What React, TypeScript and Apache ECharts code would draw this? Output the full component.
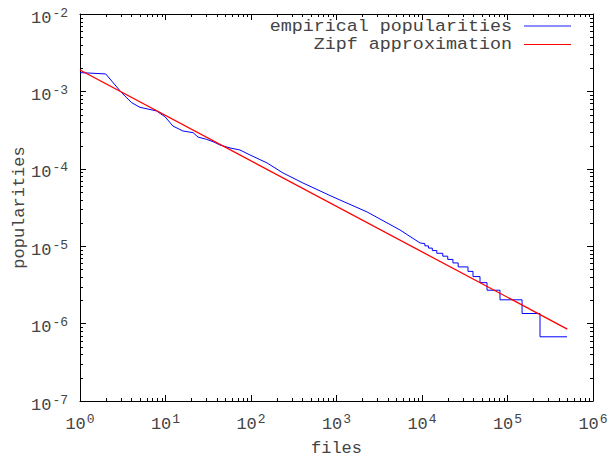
import React, { useEffect, useRef } from "react";
import * as echarts from "echarts";

// ---- data ----
const xDecades = [0, 1, 2, 3, 4, 5, 6];
const yDecades = [-7, -6, -5, -4, -3, -2];
const minorMultipliers = [2, 3, 4, 5, 6, 7, 8, 9];

// smooth head of the empirical curve (rank, popularity)
const empiricalRank = [
  1, 2, 3.07, 4.02, 5.03, 7.89, 8.6, 9.87, 12.2, 16, 21, 24, 30.3, 36, 43.4,
  56.8, 74.3, 97.3, 154, 237, 405, 910, 2280, 5530, 9500,
];
const empiricalPop = [
  1.75e-3, 1.68e-3, 9.6e-4, 7.15e-4, 6.23e-4, 5.58e-4, 5.21e-4, 4.71e-4,
  3.57e-4, 3.08e-4, 2.93e-4, 2.57e-4, 2.4e-4, 2.24e-4, 2.03e-4, 1.86e-4,
  1.75e-4, 1.51e-4, 1.19e-4, 8.83e-5, 6.56e-5, 4.33e-5, 2.77e-5, 1.62e-5,
  1.1e-5,
];

// stair-step tail: plateaus (from rank, to rank, popularity)
const stepFrom = [
  9500, 10800, 11900, 13200, 14900, 17500, 20000, 23000, 26500, 34500, 39500,
  47700, 57600, 81700, 148000, 240000,
];
const stepTo = [
  10800, 11900, 13200, 14900, 17500, 20000, 23000, 26500, 34500, 39500, 47700,
  57600, 81700, 148000, 240000, 497000,
];
const stepPop = [
  1.08e-5, 1.01e-5, 9.45e-6, 8.78e-6, 8.1e-6, 7.43e-6, 6.75e-6, 6.08e-6,
  5.4e-6, 4.73e-6, 4.05e-6, 3.38e-6, 2.7e-6, 2.03e-6, 1.35e-6, 6.75e-7,
];

const zipfRank = [1, 500000];
const zipfPop = [1.89e-3, 8.5e-7];

const seriesNames = ["empirical popularities", "Zipf approximation"];
const xName = "files";
const yName = "popularities";

const FONT = '"Liberation Mono", "Courier New", monospace';
const TEXT = "#444444";

export default function App() {
  const ref = useRef<HTMLDivElement>(null);

  useEffect(() => {
    if (!ref.current) return;
    const chart = echarts.init(ref.current, undefined, { renderer: "svg" });

    const empirical: number[][] = empiricalRank.map((r, i) => [r, empiricalPop[i]]);
    stepFrom.forEach((f, i) => {
      empirical.push([f, stepPop[i]]);
      empirical.push([stepTo[i], stepPop[i]]);
    });
    const zipf = zipfRank.map((r, i) => [r, zipfPop[i]]);

    const minorTicks: number[][] = [];
    xDecades.slice(0, -1).forEach((d) =>
      minorMultipliers.forEach((m) => minorTicks.push([m * Math.pow(10, d), 1e-7, 0]))
    );
    yDecades.slice(0, -1).forEach((d) =>
      minorMultipliers.forEach((m) => minorTicks.push([1, m * Math.pow(10, d), 1]))
    );

    const xMin = Math.pow(10, xDecades[0]);
    const xMax = Math.pow(10, xDecades[xDecades.length - 1]);
    const yMin = Math.pow(10, yDecades[0]);
    const yMax = Math.pow(10, yDecades[yDecades.length - 1]);

    const fmt = (v: number) => `{b|10}{s|${Math.round(Math.log10(v))}}`;
    const rich = {
      b: { fontFamily: FONT, fontSize: 17, color: TEXT, verticalAlign: "bottom", lineHeight: 17 },
      s: {
        fontFamily: FONT,
        fontSize: 13,
        color: TEXT,
        verticalAlign: "bottom",
        lineHeight: 13,
        padding: [0, 0, 7, 1],
      },
    };
    const axisLine = { show: true, lineStyle: { color: "#000", width: 1 } };
    const axisTick = { show: true, inside: true, length: 6, lineStyle: { color: "#000", width: 1 } };

    const baseX = {
      type: "log",
      logBase: 10,
      min: xMin,
      max: xMax,
      splitNumber: xDecades.length - 1,
      axisLine,
      axisTick,
      splitLine: { show: false },
    };
    const baseY = {
      type: "log",
      logBase: 10,
      min: yMin,
      max: yMax,
      splitNumber: yDecades.length - 1,
      axisLine,
      axisTick,
      splitLine: { show: false },
    };

    const option: any = {
      animation: false,
      backgroundColor: "#ffffff",
      grid: {
        left: 80,
        right: 15,
        top: 14,
        bottom: 55,
        containLabel: false,
        outerBoundsMode: "none",
      },
      xAxis: [
        {
          ...baseX,
          position: "bottom",
          axisLabel: { formatter: fmt, rich, margin: 15 },
          name: xName,
          nameLocation: "middle",
          nameGap: 40,
          nameMoveOverlap: false,
          nameTextStyle: { fontFamily: FONT, fontSize: 17, lineHeight: 14, color: TEXT },
        },
        { ...baseX, position: "top", axisLabel: { show: false } },
      ],
      yAxis: [
        {
          ...baseY,
          position: "left",
          axisLabel: { formatter: fmt, rich, margin: 12, padding: [8, 0, 0, 0] },
          name: yName,
          nameLocation: "middle",
          nameGap: 54,
          nameMoveOverlap: false,
          nameTextStyle: { fontFamily: FONT, fontSize: 17, lineHeight: 14, color: TEXT },
        },
        { ...baseY, position: "right", axisLabel: { show: false } },
      ],
      graphic: [
        {
          type: "text",
          x: 512,
          y: 26,
          scaleX: 1.08,
          style: {
            text: seriesNames[0],
            align: "right",
            verticalAlign: "middle",
            font: `17px ${FONT}`,
            fill: TEXT,
          },
        },
        {
          type: "line",
          shape: { x1: 524, y1: 26, x2: 571, y2: 26 },
          style: { stroke: "#0000ff", lineWidth: 1.5, opacity: 0.6 },
        },
        {
          type: "text",
          x: 512,
          y: 44,
          scaleX: 1.08,
          style: {
            text: seriesNames[1],
            align: "right",
            verticalAlign: "middle",
            font: `17px ${FONT}`,
            fill: TEXT,
          },
        },
        {
          type: "line",
          shape: { x1: 524, y1: 44.5, x2: 571, y2: 44.5 },
          style: { stroke: "#ff0000", lineWidth: 1 },
        },
      ],
      series: [
        {
          name: seriesNames[0],
          type: "line",
          xAxisIndex: 0,
          yAxisIndex: 0,
          data: empirical,
          showSymbol: false,
          symbol: "none",
          lineStyle: { color: "#0000ff", width: 1 },
          itemStyle: { color: "#0000ff" },
          z: 2,
        },
        {
          name: seriesNames[1],
          type: "line",
          xAxisIndex: 0,
          yAxisIndex: 0,
          data: zipf,
          showSymbol: false,
          symbol: "none",
          lineStyle: { color: "#ff0000", width: 1.3 },
          itemStyle: { color: "#ff0000" },
          z: 3,
        },
        {
          type: "custom",
          xAxisIndex: 0,
          yAxisIndex: 0,
          silent: true,
          clip: false,
          data: minorTicks,
          encode: { x: 0, y: 1 },
          renderItem: (params: any, api: any) => {
            const cs = params.coordSys;
            const p = api.coord([api.value(0), api.value(1)]);
            const st = { stroke: "#000", lineWidth: 1 };
            if (api.value(2) === 0) {
              const x = Math.round(p[0]) + 0.5;
              return {
                type: "group",
                children: [
                  { type: "line", shape: { x1: x, y1: cs.y + cs.height, x2: x, y2: cs.y + cs.height - 3 }, style: st },
                  { type: "line", shape: { x1: x, y1: cs.y, x2: x, y2: cs.y + 3 }, style: st },
                ],
              };
            }
            const y = Math.round(p[1]) + 0.5;
            return {
              type: "group",
              children: [
                { type: "line", shape: { x1: cs.x, y1: y, x2: cs.x + 3, y2: y }, style: st },
                { type: "line", shape: { x1: cs.x + cs.width, y1: y, x2: cs.x + cs.width - 3, y2: y }, style: st },
              ],
            };
          },
          z: 1,
        },
      ],
    };

    chart.setOption(option);
    return () => chart.dispose();
  }, []);

  return (
    <div
      ref={ref}
      style={{ position: "absolute", left: 0, top: 0, width: 608, height: 456, background: "#fff" }}
    />
  );
}
